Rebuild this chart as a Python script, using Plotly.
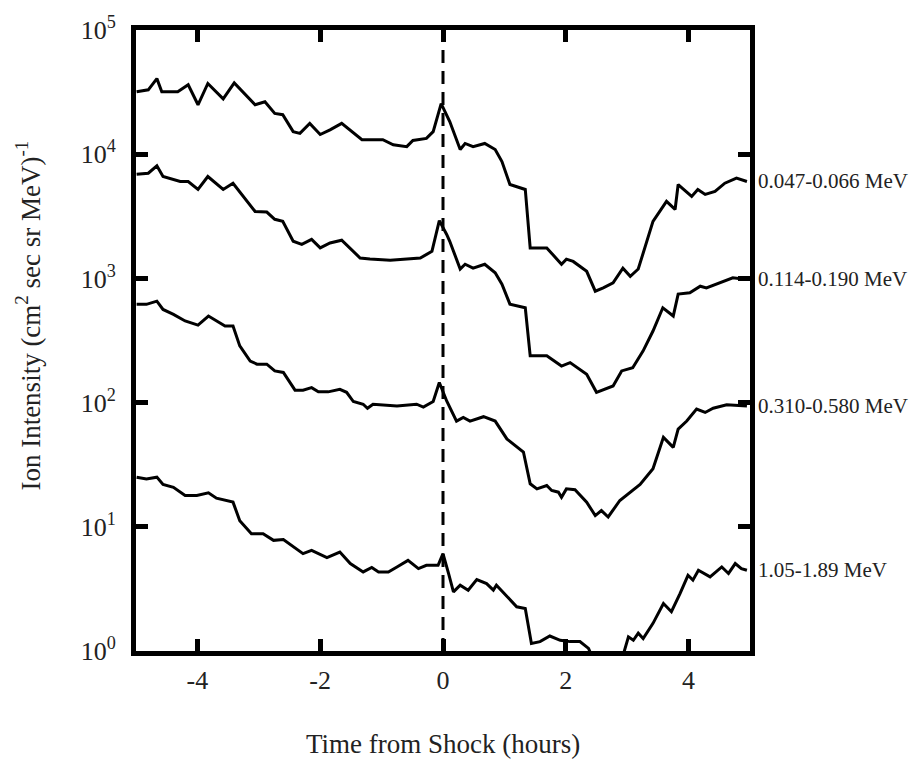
import math
import plotly.graph_objects as go

# ---------------- data ----------------
t1 = [-4.99, -4.80, -4.66, -4.58, -4.32, -4.15, -3.99, -3.83, -3.58, -3.40, -3.06, -2.90, -2.74, -2.61,
      -2.44, -2.33, -2.17, -2.00, -1.84, -1.65, -1.32, -0.98, -0.81, -0.59, -0.49, -0.27, -0.16, -0.03,
      0.11, 0.28, 0.36, 0.49, 0.68, 0.85, 0.96, 1.09, 1.34, 1.42, 1.69, 1.93, 2.01, 2.12, 2.34, 2.48,
      2.61, 2.77, 2.93, 3.05, 3.18, 3.42, 3.64, 3.78, 3.83, 4.05, 4.15, 4.27, 4.43, 4.59, 4.78, 4.95]
v1 = [31800, 33000, 40600, 31800, 31800, 36200, 25000, 37100, 27900, 37500, 25000, 26400, 21300, 20800,
      15200, 14700, 17700, 14400, 15700, 17700, 13100, 13100, 11900, 11500, 12900, 13400, 15200, 25500,
      18300, 10900, 12200, 11500, 12200, 10900, 8730, 5700, 5200, 1760, 1760, 1300, 1430, 1370, 1140, 789,
      839, 920, 1210, 1040, 1190, 2880, 4170, 3590, 5700, 4570, 5200, 4740, 5010, 5840, 6410, 6030]

t2 = [-4.99, -4.80, -4.66, -4.56, -4.28, -4.15, -3.99, -3.83, -3.58, -3.42, -3.06, -2.87, -2.74, -2.61,
      -2.44, -2.30, -2.14, -2.00, -1.84, -1.65, -1.35, -1.19, -0.86, -0.54, -0.37, -0.18, -0.06, 0.06,
      0.11, 0.28, 0.36, 0.49, 0.68, 0.85, 0.96, 1.09, 1.34, 1.42, 1.69, 1.93, 2.07, 2.34, 2.50, 2.77,
      2.91, 3.09, 3.26, 3.42, 3.58, 3.75, 3.83, 4.02, 4.19, 4.29, 4.51, 4.72, 4.95]
v2 = [6900, 7030, 8060, 6610, 6030, 6030, 5200, 6610, 5200, 5840, 3460, 3420, 2990, 2880,
      1990, 1880, 2060, 1760, 1930, 2030, 1460, 1430, 1400, 1430, 1460, 1650, 2920, 2260,
      1990, 1190, 1300, 1210, 1300, 1110, 898, 621, 580, 238, 238, 197, 210, 169, 121, 136,
      180, 191, 261, 377, 580, 498, 747, 765, 865, 839, 920, 1010, 980]

t3 = [-4.99, -4.83, -4.66, -4.56, -4.39, -4.20, -3.99, -3.82, -3.55, -3.42, -3.31, -3.14, -3.03, -2.87,
      -2.74, -2.60, -2.41, -2.28, -2.14, -2.03, -1.87, -1.68, -1.57, -1.46, -1.30, -1.23, -1.14, -0.75,
      -0.43, -0.32, -0.16, -0.06, 0.06, 0.22, 0.33, 0.44, 0.66, 0.85, 1.04, 1.31, 1.42, 1.53, 1.69, 1.77,
      1.88, 1.93, 2.01, 2.15, 2.34, 2.48, 2.58, 2.69, 2.88, 3.05, 3.21, 3.42, 3.59, 3.75, 3.83, 3.97,
      4.13, 4.27, 4.40, 4.62, 4.95]
v3 = [618, 618, 656, 562, 513, 454, 421, 498, 413, 413, 286, 216, 204, 204,
      180, 175, 126, 126, 132, 122, 122, 128, 121, 102, 97, 90, 97, 94,
      97, 92, 102, 145, 103, 71, 76, 71, 77, 71, 51, 40, 22.2, 20.2, 21.5, 19.6,
      19.0, 17.3, 20.2, 19.9, 15.8, 12.3, 13.5, 12.0, 16.3, 19.0, 21.9, 29.3, 52.5, 43.6, 61.2, 71,
      88.7, 83.3, 90, 96, 94]

t4 = [-4.99, -4.83, -4.66, -4.56, -4.39, -4.20, -4.01, -3.82, -3.69, -3.42, -3.31, -3.12, -2.93, -2.76,
      -2.60, -2.28, -2.14, -1.89, -1.68, -1.51, -1.30, -1.16, -1.05, -0.89, -0.75, -0.57, -0.40, -0.27,
      -0.08, 0.00, 0.09, 0.17, 0.28, 0.41, 0.55, 0.71, 0.82, 0.87, 1.20, 1.34, 1.44, 1.58, 1.74, 1.91,
      2.07, 2.23, 2.37, 2.45, 2.60, 2.80, 2.94, 3.02, 3.10, 3.18, 3.26, 3.42, 3.59, 3.72, 3.86, 3.99,
      4.07, 4.16, 4.35, 4.54, 4.65, 4.76, 4.86, 4.95]
v4 = [25.1, 24.3, 25.1, 21.9, 20.8, 17.9, 17.9, 18.8, 17.0, 15.8, 11.2, 8.8, 8.8, 7.78,
      7.9, 6.08, 6.47, 5.65, 6.26, 5.06, 4.33, 4.70, 4.33, 4.33, 4.75, 5.37, 4.61, 4.90,
      4.90, 6.08, 4.21, 2.99, 3.39, 3.09, 3.76, 3.49, 3.09, 3.39, 2.27, 2.20, 1.15, 1.19, 1.32, 1.22,
      1.19, 1.19, 1.05, 0.85, 0.75, 0.8, 0.95, 1.30, 1.22, 1.39, 1.26, 1.67, 2.41, 2.07, 2.90, 4.07,
      3.72, 4.47, 3.95, 4.75, 4.21, 5.06, 4.61, 4.47]

series_labels = ["0.047-0.066 MeV", "0.114-0.190 MeV", "0.310-0.580 MeV", "1.05-1.89 MeV"]
x_ticks = [-4, -2, 0, 2, 4]
y_ticks = [1, 10, 100, 1000, 10000, 100000]
y_ticktext = ["10<sup>0</sup>", "10<sup>1</sup>", "10<sup>2</sup>", "10<sup>3</sup>",
              "10<sup>4</sup>", "10<sup>5</sup>"]
shock_time = 0

# ---------------- figure ----------------
FONT = "Liberation Serif, Times New Roman, serif"
TXT = "#222222"

fig = go.Figure()
series = [(t1, v1), (t2, v2), (t3, v3), (t4, v4)]
for (t, v), name in zip(series, series_labels):
    fig.add_trace(go.Scatter(x=t, y=v, mode="lines", name=name,
                             line=dict(color="black", width=3), showlegend=False))

fig.add_shape(type="line", xref="x", yref="paper", x0=shock_time, x1=shock_time, y0=0, y1=1,
              line=dict(color="black", width=3, dash="13px,8px"), layer="below")

for (t, v), name in zip(series, series_labels):
    fig.add_annotation(text=name, xref="paper", yref="y", x=1, y=math.log10(v[-1]),
                       xanchor="left", yanchor="middle", xshift=6, showarrow=False,
                       font=dict(family=FONT, size=21, color=TXT))

fig.add_annotation(text="Time from Shock (hours)", xref="paper", yref="paper", x=0.5, y=-0.149,
                   xanchor="center", yanchor="middle", showarrow=False,
                   font=dict(family=FONT, size=27, color=TXT))
fig.add_annotation(text="Ion Intensity (cm<sup>2</sup> sec sr MeV)<sup>-1</sup>",
                   xref="paper", yref="paper", x=-0.176, y=0.54, textangle=-90,
                   xanchor="center", yanchor="middle", showarrow=False,
                   font=dict(family=FONT, size=27, color=TXT))

axis_common = dict(showline=True, linecolor="black", linewidth=5, mirror="ticks",
                   ticks="inside", ticklen=12, tickwidth=5, tickcolor="black",
                   showgrid=False, zeroline=False,
                   tickfont=dict(family=FONT, size=26, color=TXT))

fig.update_xaxes(range=[-5, 5], tickvals=x_ticks, ticktext=[str(v) for v in x_ticks],
                 ticklabelstandoff=2, **axis_common)
fig.update_yaxes(type="log", range=[0, 5], tickvals=y_ticks, ticktext=y_ticktext,
                 ticklabelstandoff=10, **axis_common)

fig.update_layout(width=923, height=760, margin=dict(l=136, r=173, t=28, b=109),
                  plot_bgcolor="white", paper_bgcolor="white",
                  font=dict(family=FONT, color=TXT))

fig.write_html("out.html")
